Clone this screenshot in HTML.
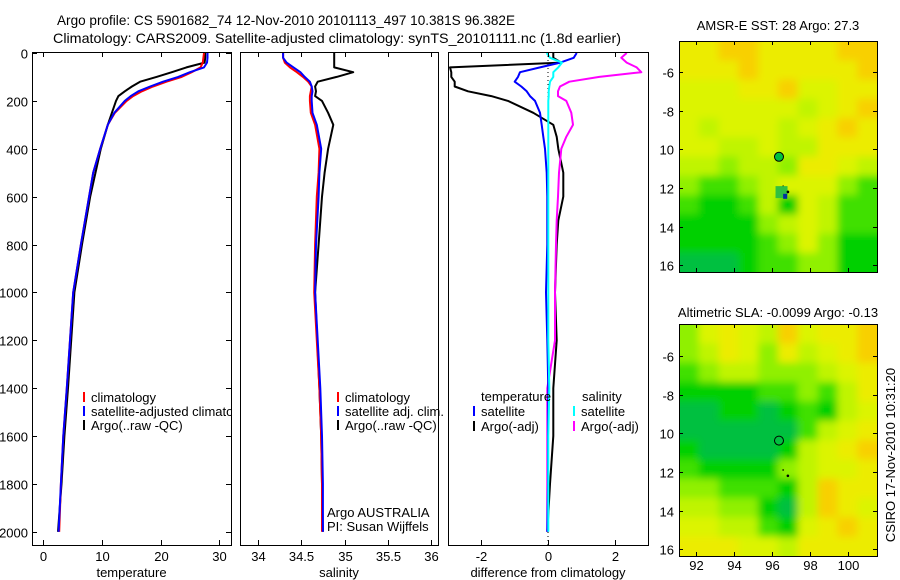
<!DOCTYPE html>
<html><head><meta charset="utf-8"><style>
html,body{margin:0;padding:0;background:#fff;}
svg{display:block;font-family:"Liberation Sans",sans-serif;}
text{font-size:13px;fill:#000;}
</style></head><body>
<svg id="fig" width="900" height="580" viewBox="0 0 900 580" xmlns="http://www.w3.org/2000/svg">
<defs>
<clipPath id="clip1"><rect x="32" y="52" width="199" height="493"/></clipPath>
<clipPath id="clipm1"><rect x="679" y="41" width="198" height="231"/></clipPath>
<clipPath id="clipm2"><rect x="679" y="324" width="198" height="232"/></clipPath>
<filter id="blur" x="-5%" y="-5%" width="110%" height="110%"><feGaussianBlur stdDeviation="4"/></filter>
</defs>
<text x="57" y="25" textLength="458" lengthAdjust="spacingAndGlyphs" style="font-size:14px">Argo profile: CS 5901682_74 12-Nov-2010 20101113_497 10.381S 96.382E</text>
<text x="53" y="43" textLength="568" lengthAdjust="spacingAndGlyphs" style="font-size:14px">Climatology: CARS2009. Satellite-adjusted climatology: synTS_20101111.nc (1.8d earlier)</text>
<text x="778" y="30" text-anchor="middle">AMSR-E SST: 28 Argo: 27.3</text>
<text x="778" y="317" text-anchor="middle">Altimetric SLA: -0.0099 Argo: -0.13</text>
<text transform="translate(895,455) rotate(-90)" text-anchor="middle">CSIRO 17-Nov-2010 10:31:20</text>
<g id="layer"></g>
</svg>
<script>
// ---- data ----
const depths = [0,20,40,60,80,100,120,140,160,180,200,250,300,400,500,600,800,1000,1400,1600,1800,2000];
const tempClim = [27.4,27.3,27.2,26.8,25.3,23.6,21.0,18.7,16.8,15.3,14.2,12.2,11.0,9.7,8.5,7.8,6.4,5.1,4.0,3.4,3.0,2.7];
const tempSat  = [28.0,28.0,27.9,27.4,25.0,23.0,20.4,18.2,16.2,14.9,13.9,12.1,11.0,9.7,8.5,7.8,6.4,5.1,4.0,3.4,3.0,2.6];
const tempArgo = [27.6,27.6,27.5,24.4,21.9,19.3,16.5,15.1,13.9,12.8,12.4,11.7,11.0,9.8,8.9,8.0,6.6,5.3,4.2,3.6,3.1,2.5];
const salClim = [34.29,34.29,34.31,34.37,34.45,34.52,34.58,34.62,34.61,34.60,34.60,34.61,34.66,34.71,34.70,34.68,34.66,34.65,34.71,34.73,34.74,34.74];
const salSat  = [34.29,34.29,34.33,34.41,34.49,34.54,34.60,34.62,34.63,34.62,34.62,34.63,34.68,34.73,34.71,34.70,34.67,34.66,34.72,34.74,34.75,34.75];
const salArgo = [34.88,34.88,34.88,34.88,35.10,34.91,34.69,34.66,34.67,34.66,34.74,34.81,34.87,34.81,34.77,34.74,34.70,34.66,34.71,34.73,34.74,34.75];
const diffDepths = [0,20,40,60,80,100,120,140,160,180,200,250,300,350,400,500,600,700,800,1000,1200,1400,1600,1800,2000];
const dTempSat  = [0.86,0.77,0.37,-0.24,-0.84,-0.90,-1.00,-0.80,-0.64,-0.54,-0.39,-0.24,-0.19,-0.14,-0.09,-0.04,-0.02,-0.02,-0.02,-0.06,-0.02,0.01,0.0,0.0,-0.02];
const dTempArgo = [0.16,0.16,0.40,-2.94,-2.90,-2.90,-2.80,-2.80,-2.40,-1.70,-1.20,-0.44,0.16,0.26,0.31,0.46,0.46,0.31,0.26,0.21,0.26,0.16,0.16,0.06,-0.02];
const dSalSat   = [-0.04,0.06,0.42,0.31,0.16,0.16,0.06,0.04,0.02,0.02,0.01,0.01,0.01,0.01,0.01,0.01,0.01,0.01,0.01,0.01,0.01,0.04,0.01,0.01,0.01];
const dSalArgo  = [2.36,2.20,2.36,2.66,2.80,1.54,0.64,0.36,0.30,0.30,0.55,0.70,0.75,0.55,0.40,0.33,0.30,0.26,0.24,0.21,0.21,-0.02,-0.02,-0.02,-0.02];
const depthTicks = [0,200,400,600,800,1000,1200,1400,1600,1800,2000];
const tempTicks = [0,10,20,30];
const salTicks = [34,34.5,35,35.5,36];
const salTickLabels = ["34","34.5","35","35.5","36"];
const diffTicks = [-2,0,2];
const lonTicks = [92,94,96,98,100];
const latTicks = [-6,-8,-10,-12,-14,-16];
const latTickLabels = ["-6","-8","10","12","14","16"];
const sstGrid = [
"7788777788","7778777778","6667786677","6666665678","6566656787","6655655777",
"5545547765","4334566643","3223526533","2222456533","2222346422","1112334422"];
const slaGrid = [
"4676586778","4576475678","3455444567","2222334357","1122123256","1111113567",
"2111125678","3222245667","4433325877","5544215876","6655326787","7776657777"];
const argoLon = 96.382, argoLat = -10.381;

const NS="http://www.w3.org/2000/svg";
const layer=document.getElementById('layer');
function el(tag,attrs,parent){const e=document.createElementNS(NS,tag);for(const k in attrs)e.setAttribute(k,attrs[k]);(parent||layer).appendChild(e);return e;}
function txt(x,y,s,anchor,parent){const t=el('text',{x:x,y:y,'text-anchor':anchor||'start'},parent);t.textContent=s;return t;}

const yTop=53, yPerM=0.2394, boxTop=52, boxBot=545;
const yD=d=>yTop+d*yPerM;

function panel(name,x0,x1,vmin,vmax){
  const g=el('g',{});
  
  
  const sx=v=>x0+(v-vmin)/(vmax-vmin)*(x1-x0);
  return {g,sx,x0,x1};
}
function frame(p,ticks,labels,xlabel,yticks){
  const r=el('rect',{x:p.x0+0.5,y:boxTop+0.5,width:p.x1-p.x0,height:boxBot-boxTop,fill:'none',stroke:'#000','stroke-width':1},p.g);
  
  
  ticks.forEach((v,i)=>{
    const x=Math.round(p.sx(v))+0.5;
    el('line',{x1:x,x2:x,y1:boxTop,y2:boxTop+5,stroke:'#000'},p.g);
    el('line',{x1:x,x2:x,y1:boxBot,y2:boxBot-5,stroke:'#000'},p.g);
    const t=txt(x,561,labels[i],'middle',p.g);
    
    
  });
  const xl=txt((p.x0+p.x1)/2,577,xlabel,'middle',p.g);
  
  
  if(yticks){
    depthTicks.forEach(d=>{
      const y=Math.round(yD(d))+0.5;
      el('line',{x1:p.x0,x2:p.x0+5,y1:y,y2:y,stroke:'#000'},p.g);
      el('line',{x1:p.x1,x2:p.x1-5,y1:y,y2:y,stroke:'#000'},p.g);
      const t=txt(p.x0-4,y+5,String(d),'end',p.g);
      
      
    });
  }
}
function line(p,vals,ds,color,name,w){
  const pts=vals.map((v,i)=>p.sx(v).toFixed(1)+','+yD(ds[i]).toFixed(1)).join(' ');
  const l=el('polyline',{points:pts,fill:'none',stroke:color,'stroke-width':w||2,'stroke-linejoin':'round'},p.g);
  
  
}
function legend(x,y,color,label,parent){
  const g=el('g',{},parent);
  
  
  if(color) el('rect',{x:x,y:y-10,width:2,height:10,fill:color},g);
  txt(x+8,y,label,'start',g);
  return g;
}

// panel 1 temperature
const p1=panel('temperature-panel',32,231,-1.93,32);
line(p1,tempArgo,depths,'#000','argo-temperature-line');
line(p1,tempClim,depths,'#f00','climatology-temperature-line');
line(p1,tempSat,depths,'#00f','satellite-temperature-line');
frame(p1,tempTicks,tempTicks.map(String),'temperature',true);
const lg1=el('g',{'clip-path':'url(#clip1)'},p1.g);


legend(83,402,'#f00','climatology',lg1);
legend(83,416,'#00f','satellite-adjusted climatology',lg1);
legend(83,430,'#000','Argo(..raw -QC)',lg1);

// panel 2 salinity
const p2=panel('salinity-panel',240,438,33.792,36.08);
line(p2,salArgo,depths,'#000','argo-salinity-line');
line(p2,salClim,depths,'#f00','climatology-salinity-line');
line(p2,salSat,depths,'#00f','satellite-salinity-line');
frame(p2,salTicks,salTickLabels,'salinity',false);
legend(337,402,'#f00','climatology',p2.g);
legend(337,416,'#00f','satellite adj. clim.',p2.g);
legend(337,430,'#000','Argo(..raw -QC)',p2.g);
const a1=txt(327,517,'Argo AUSTRALIA','start',p2.g);

const a2=txt(327,531,'PI: Susan Wijffels','start',p2.g);


// panel 3 differences
const p3=panel('difference-panel',448,648,-3,3);
const zx=p3.sx(0);
el('line',{x1:zx,x2:zx,y1:boxTop,y2:boxBot,stroke:'#000','stroke-dasharray':'1,3'},p3.g);
line(p3,dTempArgo,diffDepths,'#000','argo-temp-diff-line');
line(p3,dSalArgo,diffDepths,'#f0f','argo-sal-diff-line');
line(p3,dTempSat,diffDepths,'#00f','sat-temp-diff-line');
line(p3,dSalSat,diffDepths,'#0ff','sat-sal-diff-line');
frame(p3,diffTicks,diffTicks.map(String),'difference from climatology',false);
const lt=txt(481,401,'temperature','start',p3.g);
const ls=txt(582,401,'salinity','start',p3.g);
legend(473,416,'#00f','satellite',p3.g);
legend(473,431,'#000','Argo(-adj)',p3.g);
legend(573,416,'#0ff','satellite',p3.g);
legend(573,431,'#f0f','Argo(-adj)',p3.g);

// maps
const cmap=['#00b070','#00c040','#00d000','#40e000','#90f000','#c0f400','#dcf400','#ecec00','#f8d000','#f8b800'];
function map(name,x0,y0,x1,y1,grid,latTop,latBot,clipId){
  const g=el('g',{});
  
  
  const lonL=91.12, lonR=101.54;
  const sx=v=>x0+(v-lonL)/(lonR-lonL)*(x1-x0);
  const sy=v=>y0+(latTop-v)/(latTop-latBot)*(y1-y0);
  const rows=grid.length, cols=grid[0].length;
  const cw=(x1-x0)/cols, ch=(y1-y0)/rows;
  const cg=el('g',{'clip-path':'url(#'+clipId+')'},g);
  
  
  const bg=el('g',{filter:'url(#blur)'},cg);
  grid.forEach((row,r)=>{for(let c=0;c<cols;c++){
    const pad=(c===0?-10:0), padR=(c===cols-1?10:0), padT=(r===0?-10:0), padB=(r===rows-1?10:0);
    const cell=el('rect',{x:(x0+c*cw+pad).toFixed(1),y:(y0+r*ch+padT).toFixed(1),width:(cw+0.6-pad+padR).toFixed(1),height:(ch+0.6-padT+padB).toFixed(1),fill:cmap[+row[c]]},bg);
    
    
  }});
  const fr=el('rect',{x:x0+0.5,y:y0+0.5,width:x1-x0,height:y1-y0,fill:'none',stroke:'#000'},g);
  
  lonTicks.forEach(v=>{const x=Math.round(sx(v))+0.5;
    el('line',{x1:x,x2:x,y1:y0,y2:y0+4,stroke:'#000'},g);
    el('line',{x1:x,x2:x,y1:y1,y2:y1-4,stroke:'#000'},g);
    if(name==='sla-map'){const t=txt(x,y1+14,String(v),'middle',g);}
  });
  latTicks.forEach((v,i)=>{const y=Math.round(sy(v))+0.5;
    el('line',{x1:x0,x2:x0+4,y1:y,y2:y,stroke:'#000'},g);
    el('line',{x1:x1,x2:x1-4,y1:y,y2:y,stroke:'#000'},g);
    const t=txt(x0-5,y+5,latTickLabels[i],'end',g);
  });
  const mk=el('circle',{cx:sx(argoLon),cy:sy(argoLat),r:4.5,fill:cmap[1],stroke:'#000'},g);
  
  el('circle',{cx:sx(96.85),cy:sy(-12.2),r:1.3,fill:'#000'},g);
  el('circle',{cx:sx(96.6),cy:sy(-11.9),r:0.8,fill:'#000'},g);
  return {g,sx,sy};
}
const m1=map('sst-map',679,41,877,272,sstGrid,-4.38,-16.35,'clipm1');
const gs=el('rect',{x:m1.sx(96.2),y:m1.sy(-11.9),width:12,height:12,fill:'#30c040'},m1.g);

const bs=el('rect',{x:m1.sx(96.6),y:m1.sy(-12.3),width:4,height:5,fill:'#0030a0'},m1.g);

el('circle',{cx:m1.sx(96.85),cy:m1.sy(-12.2),r:1.3,fill:'#000'},m1.g);
map('sla-map',679,324,877,556,slaGrid,-4.35,-16.35,'clipm2');
</script>
</body></html>
